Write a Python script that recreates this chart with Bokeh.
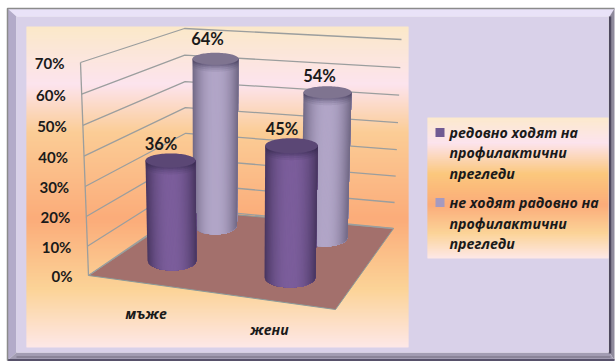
import numpy as np
from bokeh.embed import file_html
from bokeh.models import Range1d
from bokeh.plotting import figure
from bokeh.resources import INLINE
from bokeh.core.properties import value

# Survey values, percent
categories = ["мъже", "жени"]
regular = [36, 45]
not_regular = [64, 54]
series_names = [
    ["редовно ходят на", "профилактични", "прегледи"],
    ["не ходят радовно на", "профилактични", "прегледи"],
]
tick_values = [0, 10, 20, 30, 40, 50, 60, 70]
tick_labels = ["0%", "10%", "20%", "30%", "40%", "50%", "60%", "70%"]

W, H = 616, 361
UI_FONT = value("Open Sans")
NUM_FONT = value("Lato")

p = figure(width=W, height=H, output_backend="svg", toolbar_location=None,
           x_range=Range1d(0, W), y_range=Range1d(H, 0), min_border=0,
           outline_line_color=None, background_fill_color="white",
           border_fill_color="white")
p.axis.visible = False
p.grid.visible = False


def box(x0, y0, x1, y1, color):
    p.quad(left=[x0], right=[x1], top=[y0], bottom=[y1], fill_color=color, line_color=None)


def vertical_gradient(x0, y0, x1, y1, stops):
    """Stack of one-pixel bands blending through (fraction, rgb) stops."""
    ys = np.arange(y0, y1)
    fr = (ys - y0 + 0.5) / (y1 - y0)
    pos = [s[0] for s in stops]
    rgb = [np.interp(fr, pos, [s[1][i] for s in stops]) for i in range(3)]
    cols = ["#%02x%02x%02x" % (int(r), int(g), int(b)) for r, g, b in zip(*rgb)]
    p.quad(left=[x0] * len(ys), right=[x1] * len(ys), top=ys, bottom=np.minimum(ys + 1.5, y1),
           fill_color=cols, line_color=None)


# Bevelled outer frame
p.patches(
    xs=[[7, 615, 609, 16], [7, 16, 16, 7], [614, 614, 609, 609], [7, 16, 609, 614]],
    ys=[[8, 8, 16, 16], [8, 16, 352, 360], [8, 360, 352, 16], [360, 352, 352, 360]],
    fill_color=["#e9e2f8", "#b3abc9", "#8f8a9c", "#a29cb2"], line_color=None,
)
p.line([609.5, 609.5], [16, 353], line_color="#4e485e", line_width=2.5)
p.line([610, 16], [356.5, 356.5], line_color="#8a8498", line_width=2)
p.line([614, 7], [359.5, 359.5], line_color="#57516a", line_width=2)
p.line([7, 7, 614], [360, 8, 8], line_color="#8b8b8b", line_width=1.5)
box(16, 16, 608, 352, "#d9d1e9")

# Panels
panel_stops = [
    (0.00, (251, 233, 201)),
    (0.18, (253, 228, 238)),
    (0.33, (251, 205, 150)),
    (0.60, (251, 172, 122)),
    (0.82, (252, 212, 152)),
    (1.00, (254, 232, 232)),
]
vertical_gradient(26, 26, 408, 347, panel_stops)
legend_stops = [
    (0.00, (252, 234, 205)),
    (0.18, (253, 228, 238)),
    (0.40, (251, 200, 125)),
    (0.62, (251, 172, 122)),
    (0.82, (252, 212, 152)),
    (1.00, (254, 232, 232)),
]
vertical_gradient(427, 117, 608, 258, legend_stops)

# Projection of the chart box: corners at 0% and at the axis maximum
AXIS_MAX = 70
DEPTH = 1.045
front_0, front_max = np.array([88.0, 275.0]), np.array([80.0, 62.0])
back_0, back_max = np.array([186.0, 208.0]), np.array([184.0, 28.0])
right_0, right_max = np.array([393.0, 228.0]), np.array([401.0, 39.0])


def wall_point(a, b, v):
    # Projective spacing: the lower divisions come out slightly taller
    g = v / (v + DEPTH * (AXIS_MAX - v))
    return a + (b - a) * g


# Floor
p.patch([88, 186, 393, 335], [275, 210, 228, 309], fill_color="#a3706c",
        line_color="#8a9a9a", line_width=1)

# Gridlines across both walls
WALL = "#9b9e9e"
for v in tick_values:
    a = wall_point(front_0, front_max, v)
    b = wall_point(back_0, back_max, v)
    c = wall_point(right_0, right_max, v)
    p.line([a[0], b[0], c[0]], [a[1], b[1], c[1]], line_color=WALL, line_width=1.3)
p.line([front_0[0], front_max[0]], [front_0[1], front_max[1]], line_color=WALL, line_width=1.3)

# Tick labels
p.text(x=[wall_point(front_0, front_max, v)[0] - 16 for v in tick_values],
       y=[wall_point(front_0, front_max, v)[1] + 0.5 for v in tick_values],
       text=tick_labels, text_font=NUM_FONT, text_font_style="bold", text_font_size="15px",
       text_align="right", text_baseline="middle", text_color="#1a1a1a")

# Category labels
p.text(x=[145.5, 269], y=[313, 329], text=categories, text_font=UI_FONT,
       text_font_style="bold italic", text_font_size="14px", text_align="center",
       text_baseline="middle", text_color="#1a1a1a")


def cylinder(val, scale, base_y, base_cx, base_rx, base_ry, top_cx, top_rx, top_ry, edge, mid, cap):
    """Shaded cylinder whose height is val times scale pixels, leaning with the perspective."""
    top_y = base_y - val * scale
    n = 44
    t = np.linspace(-1, 1, n + 1)
    xs, ys, cols = [], [], []
    # Each band runs from its left edge to the far right, painted over by the next one
    for i in range(n):
        u = t[i:]
        tm = abs((t[i] + t[i + 1]) / 2)
        f = np.clip(1 - tm ** 2.2, 0, 1)
        c = (edge + (mid - edge) * f).astype(int)
        xs.append(np.r_[top_cx + top_rx * t[i], top_cx + top_rx, base_cx + base_rx * u[::-1]])
        ys.append(np.r_[top_y, top_y, base_y + base_ry * np.sqrt(np.clip(1 - u[::-1] ** 2, 0, 1))])
        cols.append("#%02x%02x%02x" % tuple(c))
    p.patches(xs=xs, ys=ys, fill_color=cols, line_color=None)

    # Soft shadow under the rim of the cap
    u = np.linspace(-1, 1, 61)
    for k, alpha in zip([7, 5, 3, 1.5], [0.08, 0.1, 0.14, 0.18]):
        lower = top_y + top_ry * np.sqrt(1 - u ** 2)
        p.patch(np.r_[top_cx + top_rx * u, top_cx + top_rx * u[::-1]],
                np.r_[lower + k, top_y * np.ones(61)],
                fill_color="#2c2040", fill_alpha=alpha, line_color=None)

    a = np.linspace(0, 2 * np.pi, 90)
    p.patch(top_cx + top_rx * np.cos(a), top_y + top_ry * np.sin(a), fill_color=cap, line_color=None)
    return top_y


DARK = (np.array([72, 54, 96]), np.array([124, 94, 156]), "#5b4775")
LIGHT = (np.array([112, 103, 132]), np.array([178, 166, 200]), "#7f7490")

# Back row first, nearest cylinders drawn last
top_m2 = cylinder(not_regular[0], 2.59, 224, 214.5, 22, 10, 215, 23, 6, *LIGHT)
top_f2 = cylinder(not_regular[1], 2.69, 237, 324, 23, 9, 327, 24, 6, *LIGHT)
top_m1 = cylinder(regular[0], 2.78, 260, 171.5, 24.5, 10, 170, 25, 7, *DARK)
top_f1 = cylinder(regular[1], 2.93, 277, 289.5, 25.5, 10, 291, 26.3, 7.5, *DARK)

# Value labels above each cylinder
p.text(x=[160.5, 207, 281.5, 319],
       y=[top_m1 - 16, top_m2 - 20, top_f1 - 17, top_f2 - 16],
       text=["%d%%" % regular[0], "%d%%" % not_regular[0], "%d%%" % regular[1], "%d%%" % not_regular[1]],
       text_font=NUM_FONT, text_font_size="16.5px", text_font_style="bold", text_align="center",
       text_baseline="middle", text_color="#1a1a1a")

# Legend
box(435, 127.5, 444, 136.5, "#705a93")
box(435, 197.5, 444, 206.5, "#a69ac0")
legend_y = [132, 152, 173], [202, 223, 243]
for lines, ys in zip(series_names, legend_y):
    p.text(x=[449] * 3, y=ys, text=lines, text_font=UI_FONT, text_font_style="bold italic",
           text_font_size="14.2px", text_align="left", text_baseline="middle", text_color="#1a1a1a")

open("out.html", "w").write(file_html(p, INLINE))
